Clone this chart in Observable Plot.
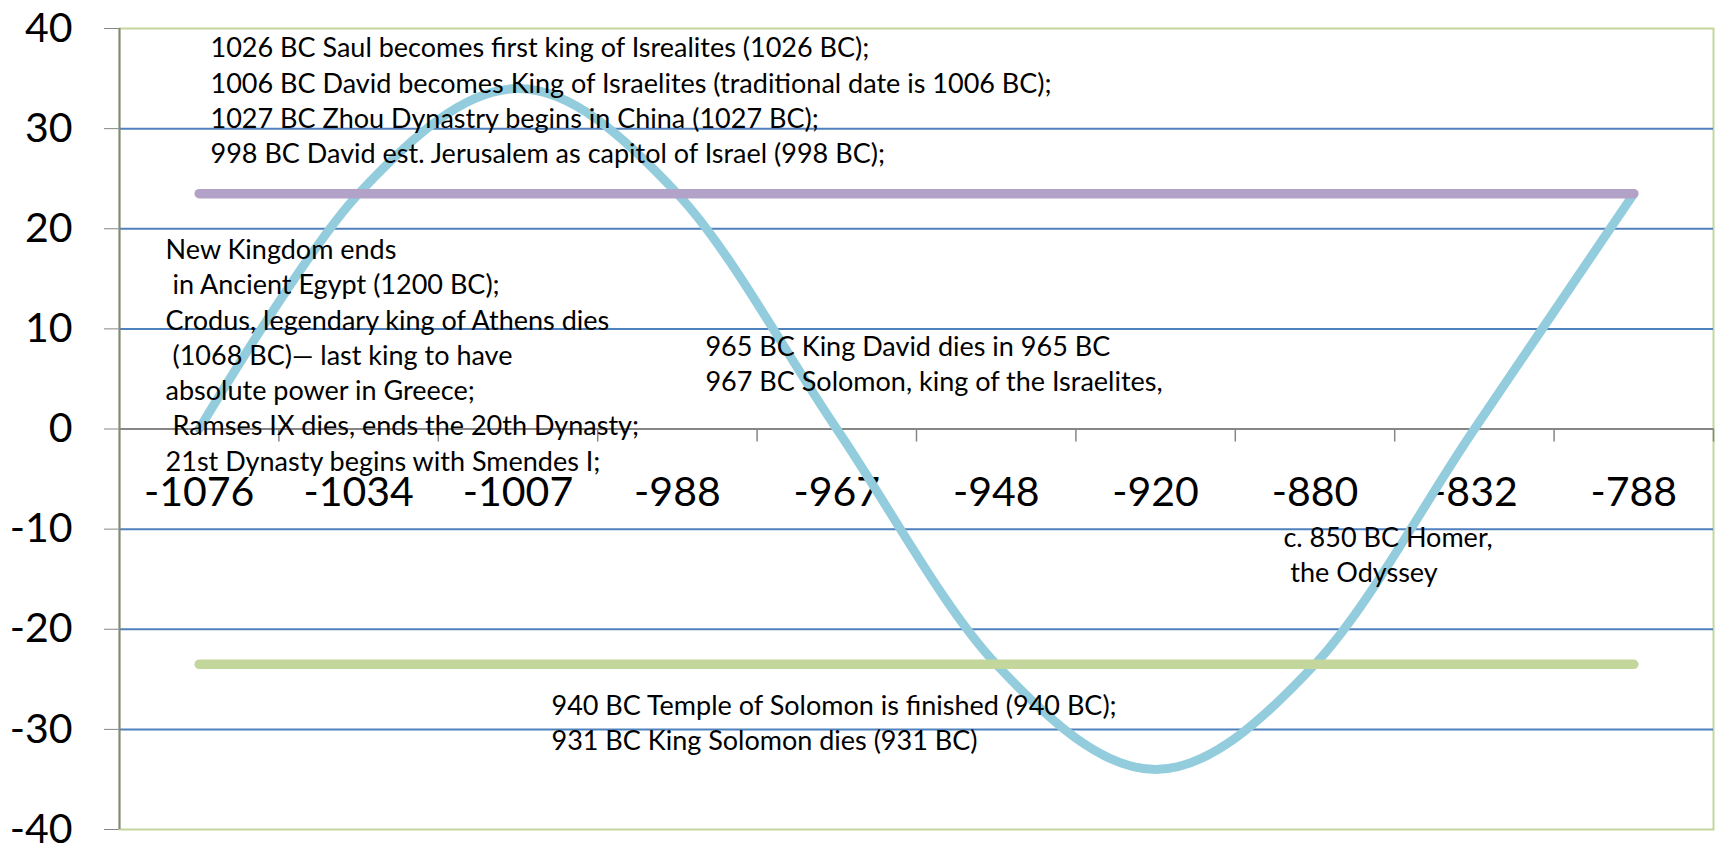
<!DOCTYPE html>
<html>
<head>
<meta charset="utf-8">
<script src="https://cdn.jsdelivr.net/npm/d3@7"></script>
<script src="https://cdn.jsdelivr.net/npm/@observablehq/plot@0.6"></script>
<style>
html, body { margin: 0; padding: 0; background: #ffffff; }
#chart svg { display: block; }
#chart svg text { white-space: pre; }
</style>
</head>
<body>
<div id="chart"></div>
<script>
// ---- data ----
const categories = ["-1076", "-1034", "-1007", "-988", "-967", "-948", "-920", "-880", "-832", "-788"];
const curveValues = [0, 23.5, 34, 23.5, 0, -23.5, -34, -23.5, 0, 23.5];
const upperValues = [23.5, 23.5, 23.5, 23.5, 23.5, 23.5, 23.5, 23.5, 23.5, 23.5];
const lowerValues = [-23.5, -23.5, -23.5, -23.5, -23.5, -23.5, -23.5, -23.5, -23.5, -23.5];
const yTicks = [-40, -30, -20, -10, 0, 10, 20, 30, 40];
const noteTexts = [
  "1026 BC Saul becomes first king of Isrealites (1026 BC);\n1006 BC David becomes King of Israelites (traditional date is 1006 BC);\n1027 BC Zhou Dynastry begins in China (1027 BC);\n998 BC David est. Jerusalem as capitol of Israel (998 BC);",
  "New Kingdom ends\n in Ancient Egypt (1200 BC);\nCrodus, legendary king of Athens dies\n (1068 BC)\u2014 last king to have\nabsolute power in Greece;\n Ramses IX dies, ends the 20th Dynasty;\n21st Dynasty begins with Smendes I;",
  "965 BC King David dies in 965 BC\n967 BC Solomon, king of the Israelites,",
  "c. 850 BC Homer,\n the Odyssey",
  "940 BC Temple of Solomon is finished (940 BC);\n931 BC King Solomon dies (931 BC)"
];
// annotation anchors (category index, value) — layout
const noteAnchors = [[0.071, 39.61], [-0.211, 19.48], [3.176, 9.84], [6.802, -9.24], [2.21, -26.02]];

// ---- tables built from the arrays ----
const idx = categories.map((c, i) => i);
const curveData = idx.map(i => ({i, v: curveValues[i]}));
const upperData = idx.map(i => ({i, v: upperValues[i]}));
const lowerData = idx.map(i => ({i, v: lowerValues[i]}));
const boundaries = idx.map(i => i + 0.5);
const gridValues = yTicks.filter(v => v !== 0 && v !== yTicks[0] && v !== yTicks[yTicks.length - 1]);
const notes = noteTexts.map((t, k) => ({t, x: noteAnchors[k][0], y: noteAnchors[k][1]}));

const FONT = "Lato, 'Open Sans', sans-serif";
const AXIS_GRAY = "#868686";

const chart = Plot.plot({
  width: 1715,
  height: 845,
  marginLeft: 119,
  marginRight: 2,
  marginTop: 28,
  marginBottom: 16,
  style: {fontFamily: FONT, fontSize: "41px", color: "#000", background: "#fff"},
  x: {domain: [-0.5, categories.length - 0.5], axis: null},
  y: {domain: [-40, 40], ticks: yTicks, tickSize: 15, tickPadding: 32, tickFormat: d => String(d), label: null},
  marks: [
    Plot.frame({stroke: "#C3D69B", strokeWidth: 2}),
    Plot.ruleY(gridValues, {stroke: "#4F81BD", strokeWidth: 2}),
    Plot.ruleY([0], {stroke: AXIS_GRAY, strokeWidth: 2}),
    Plot.ruleX([-0.5], {stroke: AXIS_GRAY, strokeWidth: 2}),
    Plot.ruleX(boundaries, {y1: 0, y2: -1.3, stroke: AXIS_GRAY, strokeWidth: 1.5}),
    Plot.text(categories, {x: (d, i) => i, y: 0, text: d => d, dy: 64, fontSize: 41, fontFamily: FONT, fill: "#000", lineAnchor: "middle", textAnchor: "middle"}),
    Plot.line(curveData, {x: "i", y: "v", curve: "cardinal", stroke: "#93CDDD", strokeWidth: 9, strokeLinecap: "round", strokeLinejoin: "round"}),
    Plot.line(upperData, {x: "i", y: "v", stroke: "#B3A2C7", strokeWidth: 9.5, strokeLinecap: "round"}),
    Plot.line(lowerData, {x: "i", y: "v", stroke: "#C3D69B", strokeWidth: 9.5, strokeLinecap: "round"}),
    Plot.text(notes, {x: "x", y: "y", text: "t", textAnchor: "start", lineAnchor: "top", lineHeight: 1.307, fontSize: 27, fontFamily: FONT, fill: "#000"})
  ]
});
document.getElementById("chart").appendChild(chart);
// gray axis tick marks
chart.querySelectorAll('[aria-label^="y-axis"] line, [aria-label="y-axis tick"] path, [aria-label="y-axis"] path.domain').forEach(e => e.setAttribute("stroke", AXIS_GRAY));
</script>
</body>
</html>
